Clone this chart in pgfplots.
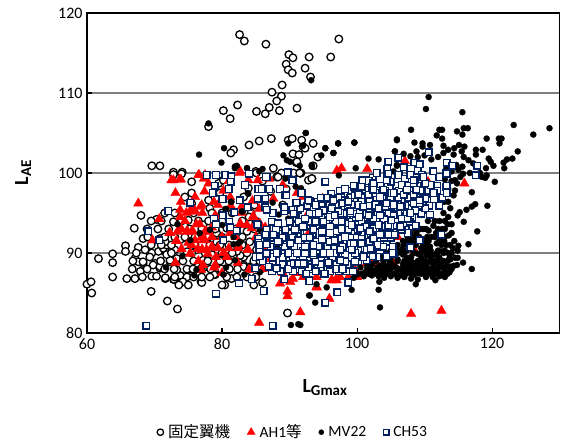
\documentclass[border=0pt]{standalone}
\usepackage{pgfplots}
\pgfplotsset{compat=1.18}
\usepackage{fontspec}
\setmainfont{Carlito}
\newfontfamily\cjk{Noto Sans CJK JP}
\definecolor{navy}{RGB}{0,32,96}
\definecolor{gridg}{RGB}{128,128,128}
\begin{document}
\begin{tikzpicture}[x=1pt,y=1pt]
\path[use as bounding box] (0pt,0pt) rectangle (561pt,441pt);
\begin{axis}[
  at={(87pt,108pt)},anchor=south west,
  scale only axis,width=472.6pt,height=320pt,
  xmin=60,xmax=130,ymin=80,ymax=120,
  xtick={60,80,100,120},ytick={80,90,100,110,120},
  xtick pos=bottom,ytick pos=left,tick align=inside,
  major tick length=5pt,
  tick style={black,line width=1.1pt},
  axis line style={black,line width=1.6pt},
  ymajorgrids,major grid style={gridg,line width=1.3pt},
  ticklabel style={font=\fontsize{16}{16}\selectfont},
  /pgf/number format/assume math mode=true,
  xticklabel style={yshift=-2pt},
  yticklabel style={xshift=-1pt},
  clip=false,
  legend columns=4,
  legend image post style={scale=0.85},
  legend style={draw=none,fill=none,at={(rel axis cs:0.436,-0.31)},anchor=center,
    font=\fontsize{15.5}{16}\selectfont,inner sep=0pt,
    /tikz/every even column/.append style={column sep=15pt}},
  legend cell align=left,
]
\addplot[only marks,mark=*,mark size=3.8pt,mark options={draw=black,fill=white,line width=1.3pt}] coordinates {
(82.6,117.3)(83.3,116.5)(86.5,116.1)(89.9,114.8)(90.5,114.4)(89.5,113.6)(89.8,112.9)(90.4,112.5)(92.3,113.1)(92.9,114.5)(93.1,112)(96.1,114.5)(97.3,116.75)
(88.9,111)(87.4,110.1)(88.8,109.6)(88.1,109)(87,108.2)(85.1,107.7)(86.4,107.4)(88.5,107.8)(91.1,108.1)(82.3,108.5)(80.2,107.8)(81.2,106.8)(78,105.8)
(84,103.5)(85.5,104)(87.3,104.3)(89.8,104.1)(90.4,104.3)(91.8,104.1)(92,103.3)(81.7,102.9)(81.3,102.5)(90.5,102.4)(91.4,102.3)(91,101.3)(87.6,100.6)(85,100.2)(88.3,99.6)(91.7,100)
(69.6,100.9)(70.8,100.9)(72.8,100.1)(74.1,100.1)(93.5,103.7)(92.3,103.1)(94.2,102)(91.1,101.4)(93.5,100.9)(91.6,100)(93.3,99.3)
(69.5,85.2)(71.9,84)(73.4,83)(76.9,86.4)(74,86.4)(71.6,86.8)(72.8,86.7)(69.6,87.1)(68.3,88.7)(70.1,88.7)(70.8,88.1)(72.3,88.9)(73.8,87.2)(75,87.9)(74.8,87)(78,87.4)(79,87.3)(80.4,86)(81.4,86.8)(83.2,88.5)(84.2,88.3)(77.2,89.1)(69.3,90)(71.6,90.2)(73.3,89.3)(78.5,89.8)
(60,86.1)(60.6,86.4)(60.7,85)(61.7,89.3)(63.8,89.9)(63.8,88.8)(63.8,87)(65.7,90.9)(65.7,90.2)(65.9,86.8)(67.1,86.8)(67,93.1)(68,94.7)(70.3,94.2)(67.1,89.3)(67.6,88.9)(67.6,90.7)(68.3,91.8)(68.6,90.4)(69.6,90)(70.6,90.2)(71.3,90.6)(71.8,91)(67.9,87.7)(70.3,87.1)(71.6,86.9)(72.9,86.7)(74.2,86.4)(77,86.3)(86,86.3)(89.7,82.5)(68.3,88.9)(69.8,88.5)(70.8,88.3)(69.3,89.5)(72.3,89.1)(73.3,87.9)(74.8,88)(76.2,88.7)(77.7,87.4)(78.8,87.3)(83.2,88.3)(84.1,88.1)(84.9,89.3)(83.2,89.5)(82.7,89.7)(79.7,89.1)(76.2,90.4)(74.8,90.2)(73,90.4)(71.8,89.8)(70.8,91.8)(71.6,91.4)(72.8,93.9)(74.5,93.3)(75,94.1)(74.5,97)(75.5,97.5)(75.5,98.9)(74,99.9)(72.8,99.8)(75.5,96.2)(78.2,95.6)(78,96.6)(79.7,97.5)(79.5,98.7)(80.2,99.1)(85.1,100)(88.1,99.5)(91.6,100)(92.8,99.1)(83.2,97)(77.2,93.5)(79.2,92.5)(79.2,91.4)(82.2,90.2)(80.7,90.8)(84.1,91.4)(83.7,92.7)(80.7,93.1)(83.9,98.1)(88.8,100)(90.6,100)
(88.3,99.5)(91.5,100)(93.3,99.3)(90.8,94.1)(88.6,92.7)(85.1,90.4)
(71.5,95)(73,95)(75.8,95)(78.5,95)(80,95)(81.5,95)(84.3,95)(69.5,94)(71,94)(74,94)(76.5,94)(78,94)(80,94)(83,94)(85,94)(68.9,93)(70.5,93)(72.1,93)(75.2,93)(77,93)(79,93)(82,93)(84.8,93)(69,92)(71.5,92)(73,92)(74.5,92)(76,92)(78,92)(80,92)(83,92)(85.5,92)(69.5,91)(71,91)(72.5,91)(74.5,91)(76,91)(78.2,91)(79.7,91)(81,91)(83,91)(67.3,90)(72.5,90)(75.5,90)(77.5,90)(80,90)(81.5,90)(83.7,90)(85.7,90)(66.8,89)(70.9,89)(74.2,89)(75.8,89)(77.9,89)(79.7,89)(81,89)(84.7,89)(85.6,89)(66.7,88)(68.9,88)(71.5,88)(72.9,88)(75.7,88)(76.9,88)(78.3,88)(79.9,88)(81.1,88)(82.3,88)(85.8,88)(68.2,87)(73,87)(75.8,87)(77,87)(78.2,87)(80.7,87)(82.2,87)(83.7,87)(85,87)(73.6,86)(75,86)(80,86)(84.7,86)
(86,99)(87.2,97.7)(89,96)(89.5,98)(84.8,96)(84,94.5)
};
\addlegendentry{\hspace{2.5pt}{\cjk 固定翼機}}
\addplot[only marks,mark=triangle*,mark size=5.5pt,mark options={draw=red,fill=red,line width=0.3pt}] coordinates {
(67.6,96.2)(70.7,94.25)(72.5,99.1)(73.7,99.2)(73.1,97.5)(76.5,99.75)(77.4,97.7)(77.3,99.3)(73.9,96.4)(73.8,95.4)(73.8,94.5)(77,96)(77.1,95)(75.4,95.3)(76,95.3)(78.8,96.4)(81.2,97)(82.6,100)(83.9,99.1)(87,99.3)(81.3,95.9)(82.9,95)(85.5,95.5)(84.6,94.6)(76.2,93.6)(76.7,93.6)(78.5,93.2)(81.4,92.5)(82.7,93.7)(84.4,93.1)(72.3,92.5)(73.5,92.7)(74.9,92.7)(75.7,92.7)(77.7,92.7)(69.7,91.6)(73.3,91.5)(75,91.3)(77.5,91.6)(78.5,90.7)(77.1,90.4)(77.7,90.4)(75.3,89.9)(73.1,88.8)(77.2,88.5)(79.1,89.5)(80.7,89.5)(82.4,90.6)(83.8,90.4)(87.4,89.5)(80,87.5)(88.6,86.2)(90.1,86.4)(89.7,85.2)(89.7,84.6)(91.6,82.6)(85.5,81.3)(91.6,87.9)(91,87.5)(87.6,96.8)(91.1,97.5)(90.6,95.2)(83.7,93.5)
(97.7,100.6)(97,100.3)(101.5,100.5)(94.9,96.8)(92.8,95)(107.1,101.5)(115.9,98.7)(108,82.4)(112.5,82.8)(95.9,84.3)(94,85.7)(96.3,86.6)(96.8,86.6)(108.6,90.2)(101.4,88.7)(102.2,88.7)(103.4,88.1)(105.4,88.7)(100,87)(92,87)(94,87)(103.2,88.3)(93,92.7)(99.7,87.9)(98.7,87)(97.5,87)(94,85.8)(87.4,89.3)(96.2,86.6)(97,86.6)
(72.8,99.1)(73.9,99.2)(76.6,99.75)(77.5,99.75)(76.8,95.8)(75.2,95.2)(75.8,95.2)(72.2,92.5)(73.4,92.7)(74.8,92.7)(75.5,92.7)(77.5,92.7)(73.2,91.5)(77.2,91.6)(78.5,90.8)(77,90.4)(75.3,90)(83.9,90.4)(82.4,91)(82.7,93.5)(85.6,93.7)(81.2,92.5)(84.7,94.5)(82.9,95.8)(82.7,100.2)
(74.5,94)(75.5,91)(79,94.7)(80.2,97.8)(79.4,90.6)(81,90.6)(77.9,89.9)(76.5,89)(76.9,87.9)(78.8,88.2)(82.3,88.8)(84,87.9)(86,90.7)(88,93)(90,93)(92,92)(90,90)(93,88)(95,88)(92,88.5)(86.4,93.2)(87.5,92)(89,98.5)(92,97)(93,94)(95,92)(97,91)(99,89.5)(102.8,90)(104,89.7)(104.8,94.3)(106,92)(108.5,95.4)(108,97.8)(110.5,98.9)
(74,93)(74.7,95)(76,97)(78,98.7)(79.4,96)(80,92)(80.2,90)(74,90.5)(76.4,90.5)(78.5,92)(76,91.6)(77,92)(79,88.5)(82,92)(85,92)(84.5,96.5)(85.3,99.1)(81,99)(86,88)(88,88)(90.5,86.8)(89,87.5)
};
\addlegendentry{\hspace{2.5pt}AH1{\cjk 等}}
\addplot[only marks,mark=*,mark size=3.1pt,mark options={draw=black,fill=black,line width=0.2pt}] coordinates {
(110.6,109.5)(110.2,108)(115.6,107.6)(93.2,111.6)(123.2,106)(128.5,105.6)(126.1,104.8)(108,105.4)(115.8,105.6)(116.4,105.6)(114.8,105.2)(115.6,104.8)(112.2,105.4)(112.6,105.4)(111.8,104.7)(112.6,104.3)(119.2,104.3)(121,104.3)(121.4,104.3)(121.1,103.7)(105.9,104.2)(108.5,103.8)(109.7,103.7)(110.8,103.5)(109.7,103.3)(105.6,102.7)(108.8,102.7)(107.9,102.1)(112.8,103.4)(112.8,102.5)(113.5,102.9)(114.4,103.1)(115.1,103.5)(115.9,103.3)(115.5,102.7)(114.3,102.3)(117.6,102.9)(118.6,102.9)(123.8,102.7)(117.6,102.3)(119.5,101.8)(115.8,102)(116.5,101.6)(117.2,101.2)(119.8,101.4)(123,101.8)(122.2,101.7)(121.7,101.3)(120.2,100.9)(121.8,100.6)(119.1,100.6)(115.6,100.8)(115,100.4)
(97.2,103.7)(99.6,103.8)(95.3,103.1)(96.5,102.5)(94.7,102.2)(93.3,100.8)(92.4,105)(101.7,101.8)(103.2,101.7)(99.8,100.6)(97.3,99.7)(105.9,101)(119.2,99.7)(118.5,99.5)(119,99.4)(114.5,99.1)(115.3,99.5)(120.4,98.9)(114.8,98.7)(117,97.6)(114.3,97.2)(113.5,96.4)(113.8,95.6)(117.5,96.1)(117,95.8)(116.2,95.4)(119.3,95.9)(115.2,95.1)(114.9,94.7)(115.8,93.9)(117.8,92.7)(114,92.5)(116.5,91.1)(115,90.9)(115.7,88.8)(117,88)(113.7,87.6)(103.4,83.2)(103.2,85.4)(103.3,86.4)(99.2,85.4)(95.5,85.7)(93,84.7)(93.8,83.8)(94,86.1)(91.6,81)
(108.8,92.5)(109.8,93)(110.6,92.8)(111.3,93.4)(112.2,94)(113,93)(113.6,92.2)(111,92)(110,91.5)(108.7,91)(109.5,90.6)(110.8,90.8)(111.8,91.2)(113.2,91)(114.2,90.6)(113.5,90)(112.5,90.2)(111.5,89.8)(110.3,89.7)(109,89.9)(108,89.5)(106.8,89.8)(106,89.2)(105,88.8)(104,88.5)(103,88.2)(102.2,88.6)(101.5,88)(100.5,88.2)(103.8,87.7)(104.8,87.9)(105.8,88.2)(106.8,88.6)(107.8,88.5)(108.8,88.8)(109.8,88.7)(110.8,88.9)(111.8,88.8)(112.8,89)(113.8,89.2)(114.5,89.4)(114.8,88.5)(113.8,88.3)(112.8,88.2)(111.8,87.9)(110.8,87.8)(109.8,87.9)(108.8,87.7)(107.8,87.5)(106.8,87.6)(105.8,87.5)(105,87.1)(106,86.9)(107,87)(108,86.8)(109,86.7)(110.2,87)(111.2,87)(112.2,87.1)(103.2,87.1)(102.2,87.2)(101,87.1)(100,87.3)(99.5,86.9)(104,86.9)(108.7,86.1)(106.5,88)(107.5,88)(104.5,89.5)(105.5,90)(106.7,90.5)(107.8,90.8)(108.5,92)(112,92.5)(112.8,95)(113.5,94.5)(112,97)(111.8,98.5)(114,99)(114.5,97.8)(113.5,98)(112.9,96.4)(113.4,93.6)(114,93.6)(107.5,89)(109.5,89)(111,89)(112,89.5)(110,88)(108.3,87.2)(106.4,87.2)(104.4,87.4)(102.6,87.7)(101.2,87.6)(112.8,87.5)(113,87)(111.6,86.6)
(107.9,92.5)(111.7,92.5)(112.6,92.5)(106.8,91.5)(107.5,91.5)(108.2,91.5)(109,91.5)(110.6,91.5)(112.2,91.5)(112.9,91.5)(114.4,91.5)(104,90.3)(105,90.3)(106.1,90.3)(107.3,90.3)(108.2,90.3)(110.1,90.3)(110.9,90.3)(112,90.3)(113,90.3)(114.9,90.3)(103.3,89.4)(103.8,89.4)(105,89.4)(107.4,89.4)(109.5,89.4)(110.9,89.4)(112.2,89.4)(113.7,89.4)(114.9,89.4)(101.5,88.4)(103.4,88.4)(104.5,88.4)(105.4,88.4)(107,88.4)(108.4,88.4)(109.3,88.4)(110.3,88.4)(111.3,88.4)(112.3,88.4)(113.2,88.4)(114.3,88.4)(100.7,87.4)(101.7,87.4)(103,87.4)(104.1,87.4)(105.5,87.4)(107.2,87.4)(108.6,87.4)(109.5,87.4)(110.5,87.4)(111.5,87.4)(112.6,87.4)(113.4,87.4)
(106,91)(106.9,91)(107.9,91)(109.8,91)(110.3,91)(112.5,91)(113.8,91)(103.6,90)(104.8,90)(106,90)(107,90)(108.5,90)(109.5,90)(110.7,90)(111.8,90)(112.8,90)(114,90)(102.8,89)(103.9,89)(104.8,89)(106,89)(107,89)(108,89)(109,89)(110.1,89)(111.4,89)(112.5,89)(113.4,89)(102.1,88)(103.2,88)(104.2,88)(105,88)(106.2,88)(107,88)(108,88)(109,88)(110,88)(111,88)(112,88)(113,88)(114,88)(100,87.5)(102,87.5)(103.6,87.5)(104.8,87.5)(105.8,87.5)(106.8,87.5)(108,87.5)(109,87.5)(110,87.5)(111,87.5)(112,87.5)(113,87.5)(107.5,92)(108,92)(109.2,92)(110.4,92)(111.5,92)(113,92)(108.6,93)(109.4,93)(110.2,93)(112,93)(112.6,93)(110.5,94)(111.5,94)(113,94)
(113.2,100.5)(114,100.2)(113,99.2)(115.7,99.9)(116.7,100)(118.2,100)(114.7,101)(112,102)(110,102.2)(109,102)(106.9,102.4)(111,101.7)
(92.4,105)(99.6,103.8)(97.2,103.7)(95.3,103.1)(96.5,102.5)(89.8,103.7)(92,103.4)(89.1,102.2)(90.1,101.4)(89.6,101.6)(91.5,100.9)(93.3,101)(105.9,104.1)(105.6,102.7)(105.9,100.9)(105.4,100.2)
(78,106.2)(80.3,103.1)(76.6,102.3)(79.9,101.3)(82.2,100.9)(81.9,100.6)(83.7,100.6)(86,100.5)(85.5,100.2)(89.4,99.3)
(83.9,97.4)(81.4,96.4)(80.5,95.5)(83.1,95.2)(87.5,96.3)(88.4,94.8)(89.8,94.3)(81.7,95.2)(80,93.5)(73.4,93.6)(76.7,92.5)(82.7,91.4)(81.7,91.1)(74.1,89.6)(85.6,92.9)(81.9,89.1)(80.6,88.2)(71.7,88.2)(76.2,87.9)(75.9,87.2)(80.2,87.3)(83.3,87.3)(85.6,87.6)(90.2,81)(91.3,81.1)(92.9,84.7)(90.9,98.3)(91.7,98.1)(89.3,88.7)(90.3,89.5)(88.1,90.8)(78.2,92.9)(75.3,91.6)(89.6,92.7)
(80.6,95.5)(81.3,96.4)(83.8,97.5)(81.9,100.8)(83.7,100.6)(82.9,95.2)(81.7,92)(82.4,91.2)
};
\addlegendentry{\hspace{2.5pt}MV22}
\addplot[only marks,mark=square*,mark size=3.3pt,mark options={draw=navy,fill=white,line width=1.4pt}] coordinates {
(103.5,98.4)(105.8,98.4)(107.4,98.4)(109,98.4)(111.9,98.4)
(96.2,97.4)(98.6,97.4)(99.8,97.4)(102,97.4)(103.4,97.4)(104.5,97.4)(106.4,97.4)(108,97.4)(109.1,97.4)(110.5,97.4)
(92.9,96.4)(94.2,96.4)(95,96.4)(97.3,96.4)(98.2,96.4)(100,96.4)(101.4,96.4)(103.5,96.4)(105.6,96.4)(106.9,96.4)(108,96.4)(110,96.4)
(90.4,95.4)(91.2,95.4)(93.4,95.4)(94.5,95.4)(96,95.4)(98,95.4)(98.9,95.4)(100.6,95.4)(102.2,95.4)(104,95.4)(105.8,95.4)(107,95.4)(109.8,95.4)
(90.9,94.4)(93.5,94.4)(94.9,94.4)(97,94.4)(98.4,94.4)(99.5,94.4)(101,94.4)(102.6,94.4)(104.5,94.4)(105.9,94.4)(107,94.4)(108.2,94.4)
(90,93.4)(91,93.4)(92.8,93.4)(94,93.4)(95.1,93.4)(96.6,93.4)(97.9,93.4)(99,93.4)(101,93.4)(102,93.4)(103,93.4)(105.2,93.4)(107,93.4)
(88.8,92.4)(90.2,92.4)(91.6,92.4)(93.4,92.4)(94.8,92.4)(96,92.4)(97.9,92.4)(99.4,92.4)(100.7,92.4)(102,92.4)(103,92.4)(104.8,92.4)
(86,91.4)(87.6,91.4)(89.5,91.4)(92.6,91.4)(93.9,91.4)(95.2,91.4)(96.7,91.4)(98.3,91.4)(100,91.4)(101,91.4)(103,91.4)(104.4,91.4)
(85.5,90.3)(87.4,90.3)(89,90.3)(90.5,90.3)(92,90.3)(93.9,90.3)(94.5,90.3)(96,90.3)(98.9,90.3)(100.2,90.3)(103.4,90.3)
(86,89)(88.4,89)(89.6,89)(91,89)(92.6,89)(94.4,89)(95.2,89)(96.6,89)(98,89)(99,89)(100.2,89)
(88,88)(91,88)(93.2,88)(94.6,88)(95.6,88)(98.9,88)
(97.4,97.8)(99.1,97.8)(100.1,97.8)(103,97.8)(104.2,97.8)(106.2,97.8)(107.9,97.8)(109.4,97.8)(110.6,97.8)(111.9,97.8)
(94.6,96.9)(95.7,96.9)(97.2,96.9)(99,96.9)(100.6,96.9)(102.4,96.9)(104.9,96.9)(106.1,96.9)(107.6,96.9)(109.8,96.9)(112.6,96.9)
(92.6,95.9)(94.7,95.9)(95.9,95.9)(97,95.9)(98.6,95.9)(101.1,95.9)(102.9,95.9)(105.1,95.9)(107.1,95.9)(109.1,95.9)(110.7,95.9)
(90.6,94.9)(93,94.9)(93.9,94.9)(95.7,94.9)(98,94.9)(99.8,94.9)(101.2,94.9)(103,94.9)(104.7,94.9)(106.1,94.9)(107.4,94.9)(109.5,94.9)
(90,93.9)(91.4,93.9)(93,93.9)(95.4,93.9)(96.8,93.9)(98.8,93.9)(100.6,93.9)(102.8,93.9)(103.8,93.9)(106,93.9)(107.8,93.9)
(86.6,92.9)(88,92.9)(89.4,92.9)(91.2,92.9)(93.5,92.9)(95.3,92.9)(96.5,92.9)(98.7,92.9)(100.1,92.9)(102.9,92.9)(104.1,92.9)(105.5,92.9)(107.2,92.9)
(87.2,91.9)(89,91.9)(90.4,91.9)(92.2,91.9)(93,91.9)(95.5,91.9)(97,91.9)(99,91.9)(100,91.9)(102.5,91.9)(104,91.9)(105,91.9)
(87.2,90.8)(89.3,90.8)(90.7,90.8)(92.8,90.8)(94.3,90.8)(95.6,90.8)(97.9,90.8)(99.6,90.8)(101.4,90.8)(103.9,90.8)
(85,89.5)(87.5,89.5)(89,89.5)(90.5,89.5)(92,89.5)(93.6,89.5)(94.7,89.5)(96.4,89.5)(97.9,89.5)(99,89.5)(100.4,89.5)(103,89.5)
(87.5,88.6)(89,88.6)(90.2,88.6)(91.2,88.6)(93,88.6)(94.6,88.6)(96.2,88.6)(97,88.6)(98.6,88.6)
(87.4,87.7)(88.7,87.7)(90.5,87.7)(91.8,87.7)(93.9,87.7)(96,87.7)(97.3,87.7)(98.4,87.7)
(110.6,102.6)(106.1,101.9)(104.6,101.4)(104.5,100.5)(104.5,99.8)(106.9,100.7)(108.5,101.3)(109.3,101.1)(108,100.5)(109,100.3)(113.3,101.3)(114.1,100.9)(117.8,100.9)(117.6,99.7)(111.3,100.2)(113.2,100)(112.2,99.5)(106.2,99.8)(108.6,99.1)(107.1,99.3)(110.1,98.7)(110.9,98.5)(113.2,98.3)(113.3,97.5)(111.4,97.5)(111.4,96.7)(112.2,95.9)(110.8,94.8)(110.1,95.6)(108.7,96.2)(108.7,93.4)(107.5,92.5)(112.5,92.3)(109.3,91.6)(107.9,90.7)(105.3,90.8)(105.4,89.9)(104.4,89.6)(102.9,90.8)(102,90.5)(101,89.7)(99.7,88.9)(99.4,87.7)(98.7,86.4)(97.9,87.95)(97.1,85.1)(95.3,83.8)(95.3,98.9)(96.5,96.7)(93,96.5)(93.9,96)(95.1,95.4)(99.6,98.3)(98.2,98)(100.7,99)(101.7,99.1)(102.3,99.4)(92.3,94.3)(92.9,86.6)(95.1,87.4)(92.4,87.4)(92.8,88.2)(95.5,88.7)(96.9,88)
(86.6,99.5)(95.3,98.9)(90.5,99.1)(86.9,98)(88.6,98)(85.4,96.8)(86.4,96.8)(89.4,97.2)(91.7,97.5)(93,96.5)(93.9,96)(96.5,96.6)(98.2,98)(99.5,98.4)(100.8,99.1)(101.7,99)(98.2,96.6)(99.7,97.2)(101.2,97.9)(102.2,98.3)(91.1,96.3)(87.5,95)(86.4,95.7)(89.2,95.2)(91.6,95.6)(92.3,94.3)(95,95.3)(96.3,95.6)(97.8,96.2)(99.5,96)(100.7,96.4)(101.9,96.6)(85.4,93.5)(87.4,93.9)(88.3,93.7)(90.8,92.9)(92.1,93.2)(94.5,93.9)(96,94.5)(97.5,95)(99,95)(100.4,95)(101.7,95.2)(94.8,92.7)(97,92.7)(98.2,93.7)(99.7,93.5)(101.2,93.3)(102.2,94.1)(85.4,91.8)(86.6,91.2)(88.5,91.4)(90.1,91.2)(91.3,91.6)(92.3,90.8)(93.5,91)(94.8,91.8)(96,91.4)(97.5,91.8)(99,91.2)(100.7,91.8)(101.9,91.4)(86.6,90)(88.3,90.2)(89.8,90)(91.3,90)(93,90)(95,90)(96.7,90.6)(98.2,89.8)(99.7,90)(101.4,90.4)
(77.7,99.75)(79.1,99.75)(80.5,99.75)(81.4,99.6)(81.3,98.9)(84,99.9)(78.9,98.4)(78.6,97.5)(81,98)(83.4,98.5)(85.4,98)(80.1,96.75)(82.6,96.6)(75.3,96.3)(72.05,95.25)(83.8,95.7)(85.3,96.8)(81.8,95.1)(80.1,94.7)(78.8,94.25)(81.1,93.9)(81.2,93.2)(82.2,92.8)(85.2,93.6)(69.1,92.7)(70.7,91.6)(80.2,91.6)(85.4,91.3)(79.1,93.6)
(79.1,84.9)(68.8,80.9)(82.5,86.2)(84.4,86.75)(84.9,88.1)(86.2,85.25)(87.5,80.9)(95.3,83.8)(97.1,85.1)(89.2,86.7)(92.9,86.5)(98.7,86.3)(86.6,89.9)(88.1,90)(89.8,90)(91.1,90)(92.3,90)(93.5,90)(95,89.9)(96.7,90)(86.9,88.3)(88.1,88.1)(89.8,88)(90.6,88.7)(92.3,88.6)(92.5,87.4)(93.8,88.9)(95.2,87.4)(95.6,88.7)(96.9,88)(97.8,88)(99.4,87.7)(98.2,88.9)(99.7,88.9)(101.4,89.1)
(86.5,99.5)(89.7,100.1)(90.4,99.1)(85.9,98)(87,98)(89.5,97.2)(91.8,97.5)(80.05,96.75)(86.4,96.8)(91,96.3)(89.2,95.7)(92.8,96.6)(86.6,95.4)(86.4,92.3)(87.6,92.3)(85.6,91)(86.6,91.1)(88.3,91.4)(85.6,89.6)(91.3,88.7)
(117.6,99.7)(113.3,99.9)(113.3,98.4)(111.3,97.5)(108.6,95.3)(105.3,90)(102.9,100)(104.6,99.9)(106.1,99.75)(107.9,99.75)(109.6,99.75)(111.3,100.2)(102.4,98.7)(105,98.9)(106.6,98.5)(108.4,98.7)(110.1,98.7)(102.7,97.5)(103.8,96.8)(105.1,97.5)(106.9,97.3)(108.4,97.3)(110.1,96.8)(102.7,96)(104.2,95.8)(105.4,96)(106.6,95.8)(108.4,96.2)(109.3,96.2)(102.4,94.3)(104,94.2)(105.4,94.7)(106.6,94.3)(107.5,94.3)(102.4,93.1)(103.7,93.3)(104.9,93.3)(105.9,93.4)(106.6,92.9)(102.4,91.8)(103.4,92.3)(104.6,92.3)(105.6,92.3)(103,91)(102.2,90.4)(102.3,89.6)
(100.7,98.3)(101.7,97.3)(100.2,97.3)(98.7,96.4)(99,95.2)(100.2,96)(101.7,95.9)(103.2,95.6)(100.3,94.5)(101.7,94.7)(103.4,94.7)(97.7,93.9)(96,93.3)(95,93.9)(93.8,93.9)(92,93.3)(96,92.5)(97.7,93)(99.2,93.5)(100.5,93.1)(101.9,92.7)(103.2,93.5)(104.6,93.5)(94.8,91.7)(96.7,91.6)(98.2,92)(99.5,91.2)(100.7,91.2)(93.5,91)(92.3,90.8)(95,90)(96,90)(97.5,90.4)(99.2,90.4)(102,90.6)(92.1,88.7)(93.8,88.9)(95.8,88.8)(97.5,89.1)(100.9,89.5)(103.9,97.9)(105.4,97.5)(107.4,97.9)(108.8,97.9)(106.4,95.8)(103.4,97)(104.4,96.2)(107.9,95)(109.3,96.6)(104.4,99.1)(108.4,99.1)(109.8,99.5)(105.1,94.1)(106.4,93.3)(102.4,97.9)(100.9,95.8)(97.2,95.2)(94.3,95)(96.7,94.7)
};
\addlegendentry{\hspace{2.5pt}CH53}
\node[font=\bfseries,anchor=center] at (rel axis cs:0.503,-0.172) {\fontsize{20}{20}\selectfont L\raisebox{-3pt}{\fontsize{15}{15}\selectfont Gmax}};
\node[font=\bfseries,anchor=center,rotate=90] at (rel axis cs:-0.135,0.5) {\fontsize{20}{20}\selectfont L\raisebox{-3pt}{\fontsize{15}{15}\selectfont AE}};
\end{axis}
\end{tikzpicture}
\end{document}
